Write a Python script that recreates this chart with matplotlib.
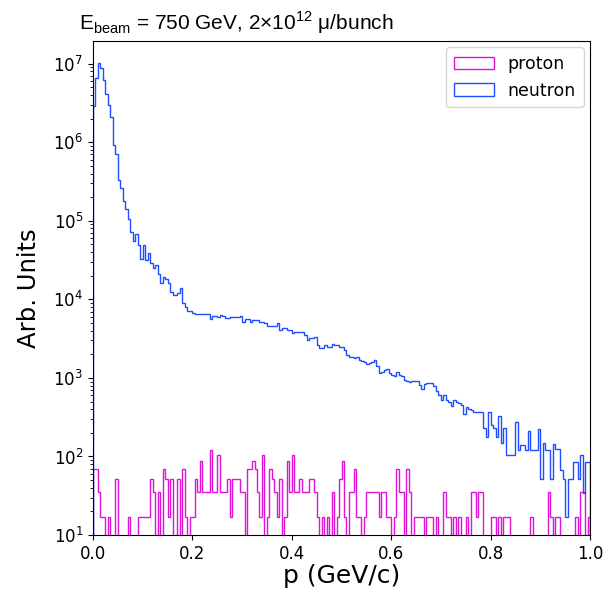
import numpy as np
import matplotlib
matplotlib.use("Agg")
import matplotlib.pyplot as plt

# ---- data (200 bins of p from 0 to 1 GeV/c) ----
n_bins = 200
p_min, p_max = 0.0, 1.0

neutron = [
    2.9e6, 6.6e6, 1.02e7, 8.9e6, 6.3e6, 4.1e6, 3.0e6, 2.1e6, 9.3e5, 7.2e5,
    3.3e5, 2.6e5, 1.8e5, 1.4e5, 1.07e5, 7.2e4, 5.5e4, 6.9e4, 4.9e4, 3.3e4,
    4.9e4, 3.2e4, 3.9e4, 2.9e4, 2.5e4, 2.75e4, 2.1e4, 1.6e4, 1.9e4, 1.8e4,
    1.6e4, 1.26e4, 1.15e4, 1.15e4, 1.2e4, 1.4e4, 8.9e3, 7.9e3, 7.2e3, 7.1e3,
    6.8e3, 6.6e3, 6.6e3, 6.6e3, 6.6e3, 6.6e3, 6.6e3, 5.6e3, 6.2e3, 6.2e3,
    6.0e3, 6.3e3, 6.2e3, 5.75e3, 5.75e3, 5.9e3, 5.9e3, 5.9e3, 5.9e3, 6.2e3,
    5.2e3, 5.6e3, 5.6e3, 5.2e3, 5.5e3, 5.5e3, 5.5e3, 5.2e3, 5.2e3, 5.0e3,
    4.6e3, 4.6e3, 4.6e3, 4.6e3, 5.0e3, 4.1e3, 4.3e3, 4.3e3, 4.1e3, 4.1e3,
    3.7e3, 3.9e3, 3.9e3, 3.8e3, 3.8e3, 3.55e3, 3.0e3, 3.2e3, 3.2e3, 3.3e3,
    2.6e3, 2.4e3, 2.4e3, 2.6e3, 2.5e3, 2.45e3, 2.7e3, 2.6e3, 2.6e3, 2.45e3,
    2.45e3, 2.3e3, 1.95e3, 1.85e3, 1.85e3, 1.8e3, 1.85e3, 1.7e3, 1.65e3, 1.6e3,
    1.5e3, 1.55e3, 1.6e3, 1.7e3, 1.4e3, 1.15e3, 1.2e3, 1.25e3, 1.3e3, 1.15e3,
    1.1e3, 1.05e3, 1.2e3, 1.1e3, 1.07e3, 930, 910, 890, 910, 910,
    910, 810, 720, 830, 850, 850, 870, 780, 680, 600,
    525, 600, 525, 500, 435, 525, 500, 480, 455, 345,
    425, 405, 390, 370, 370, 370, 370, 230, 178, 370,
    250, 230, 178, 325, 150, 230, 104, 104, 104, 104,
    275, 120, 140, 140, 120, 210, 120, 120, 120, 225,
    52, 148, 120, 120, 52, 145, 125, 125, 68, 52,
    17, 52, 52, 85, 85, 52, 104, 34, 85, 85,
]

proton = [
    69, 69, 35, 17, 17, 0, 17, 0, 0, 52,
    0, 0, 0, 0, 17, 0, 0, 0, 17, 17,
    17, 17, 17, 52, 35, 0, 35, 0, 69, 52,
    17, 52, 0, 0, 52, 0, 69, 17, 0, 17,
    17, 52, 35, 87, 35, 35, 35, 121, 35, 35,
    104, 35, 35, 35, 52, 17, 52, 52, 52, 35,
    35, 0, 69, 69, 87, 69, 35, 17, 104, 0,
    17, 69, 52, 35, 17, 52, 0, 17, 87, 35,
    104, 35, 35, 52, 35, 35, 35, 52, 52, 35,
    17, 0, 17, 0, 17, 0, 35, 0, 17, 52,
    87, 17, 0, 35, 35, 69, 17, 17, 0, 17,
    35, 35, 35, 35, 35, 17, 35, 35, 17, 17,
    0, 17, 69, 35, 35, 0, 69, 35, 0, 17,
    17, 17, 17, 0, 17, 17, 17, 0, 17, 0,
    0, 35, 17, 17, 0, 17, 0, 17, 0, 0,
    17, 0, 35, 35, 17, 35, 35, 0, 0, 0,
    17, 17, 0, 17, 0, 17, 17, 17, 0, 0,
    0, 0, 0, 0, 0, 0, 17, 0, 0, 0,
    0, 0, 0, 35, 17, 0, 17, 17, 0, 0,
    0, 0, 0, 0, 17, 0, 35, 35, 0, 17,
]

labels = ["proton", "neutron"]
colors = ["#e014d8", "#1f4dff"]

title = (r"E$_{\mathregular{beam}}$ = 750 GeV, 2$\mathregular{\times}$10$^{\mathregular{12}}$ μ/bunch")

# ---- figure ----
edges = np.linspace(p_min, p_max, n_bins + 1)
centers = 0.5 * (edges[:-1] + edges[1:])

fig = plt.figure(figsize=(6.04, 5.93), dpi=100)
ax = fig.add_axes([93 / 604, 1 - 535 / 593, (590 - 93) / 604, (535 - 41) / 593])

for vals, lab, col in zip([proton, neutron], labels, colors):
    ax.hist(centers, bins=edges, weights=vals, histtype="step",
            color=col, label=lab, log=True, linewidth=1.0)

ax.set_xlim(p_min, p_max)
ax.set_ylim(10, 1.95e7)
ax.set_xticks([0.0, 0.2, 0.4, 0.6, 0.8, 1.0])
ax.tick_params(labelsize=12)
ax.set_xlabel("p (GeV/c)", fontsize=18, labelpad=1)
ax.set_ylabel("Arb. Units", fontsize=17.5, labelpad=9)
ax.legend(loc="upper right", fontsize=12.5, handlelength=2.3,
          borderpad=0.45, borderaxespad=0.35)

fig.text(79 / 604, 1 - 30 / 593, title, fontsize=15, family="Liberation Sans",
         ha="left", va="baseline")

fig.savefig("out.png", dpi=100)
